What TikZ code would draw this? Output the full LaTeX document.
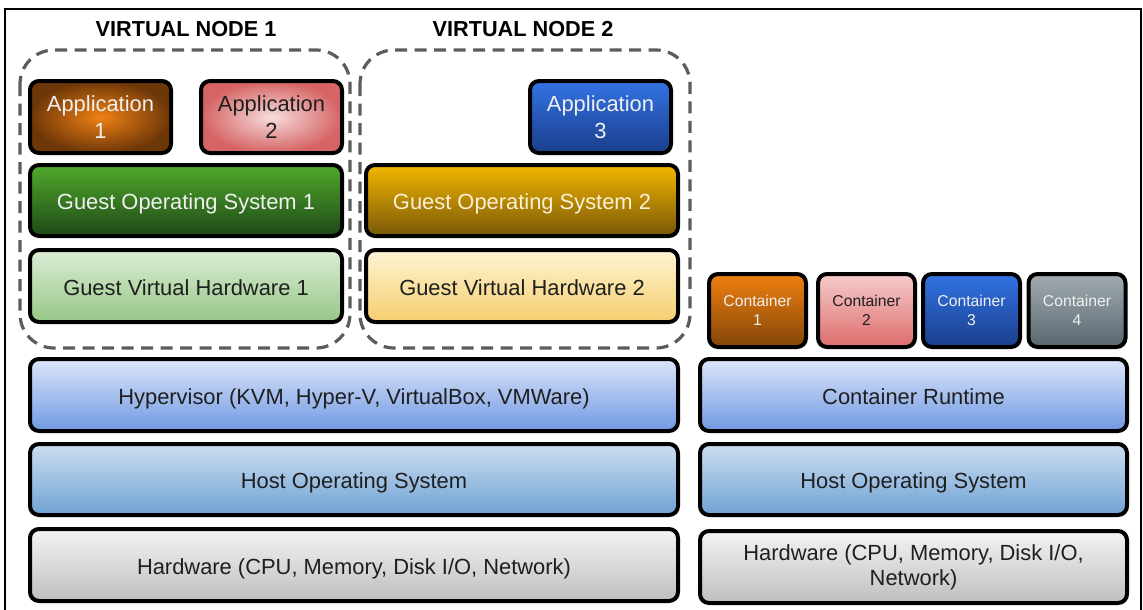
\documentclass[tikz,border=0pt]{standalone}
\usepackage{fontspec}
\setmainfont{Liberation Sans}
\newcommand\dn[1]{\raisebox{-3.8pt}[16pt][5pt]{#1}}
\begin{document}
\begin{tikzpicture}[x=1pt,y=-1pt,
  layer/.style={draw=black,line width=4pt,rounded corners=9pt,inner sep=0pt,align=center,
    font=\fontsize{21.9}{27}\selectfont,text=black!88},
  lighttext/.style={text=white!94!black},
  ctr/.style={layer,minimum width=97pt,minimum height=73pt,font=\fontsize{15.7}{19}\selectfont},
  vnode/.style={draw=black!64,line width=3.2pt,dash pattern=on 12pt off 7.5pt,rounded corners=34pt},
  vlabel/.style={font=\fontsize{21.7}{26}\selectfont\bfseries,text=black,inner sep=0pt}]
\useasboundingbox (0,0) rectangle (1143,610);
\draw[line width=2.5pt] (5,612) -- (5,9) -- (1141,9) -- (1141,612);

% virtual node outlines
\draw[vnode] (20,50) rectangle (350,348);
\draw[vnode] (360,50) rectangle (690,348);
\node[vlabel] (vn1) at (186,29.5) {VIRTUAL NODE 1};
\node[vlabel] (vn2) at (523,29.5) {VIRTUAL NODE 2};

% applications
\node[layer,lighttext,minimum width=141pt,minimum height=72pt,shading=radial,
  inner color={rgb,255:red,240;green,130;blue,20},outer color={rgb,255:red,110;green,55;blue,8}]
  (app1) at (100.5,117) {Application\\1};
\node[layer,minimum width=141pt,minimum height=72pt,shading=radial,
  inner color={rgb,255:red,246;green,220;blue,220},outer color={rgb,255:red,214;green,100;blue,100}]
  (app2) at (271.5,117) {Application\\2};
\node[layer,lighttext,minimum width=141pt,minimum height=72pt,
  top color={rgb,255:red,50;green,115;blue,228},bottom color={rgb,255:red,26;green,62;blue,140}]
  (app3) at (600.5,117) {Application\\3};

% guest OS / hardware
\node[layer,lighttext,minimum width=312pt,minimum height=71pt,
  top color={rgb,255:red,80;green,170;blue,44},bottom color={rgb,255:red,30;green,72;blue,22}]
  (gos1) at (186,200.5) {\dn{Guest Operating System 1}};
\node[layer,minimum width=312pt,minimum height=72pt,
  top color={rgb,255:red,220;green,238;blue,214},bottom color={rgb,255:red,150;green,198;blue,134}]
  (gvh1) at (186,286) {\dn{Guest Virtual Hardware 1}};
\node[layer,text={rgb,255:red,250;green,240;blue,215},minimum width=312pt,minimum height=71pt,
  top color={rgb,255:red,244;green,182;blue,0},bottom color={rgb,255:red,120;green,88;blue,8}]
  (gos2) at (522,200.5) {\dn{Guest Operating System 2}};
\node[layer,minimum width=312pt,minimum height=72pt,
  top color={rgb,255:red,255;green,244;blue,212},bottom color={rgb,255:red,245;green,206;blue,110}]
  (gvh2) at (522,286) {\dn{Guest Virtual Hardware 2}};

% host stacks
\node[layer,minimum width=648pt,minimum height=72pt,
  top color={rgb,255:red,220;green,230;blue,250},bottom color={rgb,255:red,112;green,152;blue,226}]
  (hyp) at (354,395) {\dn{Hypervisor (KVM, Hyper-V, VirtualBox, VMWare)}};
\node[layer,minimum width=648pt,minimum height=71pt,
  top color={rgb,255:red,204;green,222;blue,242},bottom color={rgb,255:red,112;green,162;blue,212}]
  (hos1) at (354,479.5) {\dn{Host Operating System}};
\node[layer,minimum width=648pt,minimum height=72pt,
  top color={rgb,255:red,244;green,244;blue,244},bottom color={rgb,255:red,190;green,190;blue,190}]
  (hw1) at (354,565) {\dn{Hardware (CPU, Memory, Disk I/O, Network)}};

\node[layer,minimum width=427pt,minimum height=72pt,
  top color={rgb,255:red,220;green,230;blue,250},bottom color={rgb,255:red,112;green,152;blue,226}]
  (crt) at (913.5,395) {\dn{Container Runtime}};
\node[layer,minimum width=427pt,minimum height=71pt,
  top color={rgb,255:red,204;green,222;blue,242},bottom color={rgb,255:red,112;green,162;blue,212}]
  (hos2) at (913.5,479.5) {\dn{Host Operating System}};
\node[layer,minimum width=427pt,minimum height=72pt,font=\fontsize{21.9}{25}\selectfont,
  top color={rgb,255:red,244;green,244;blue,244},bottom color={rgb,255:red,190;green,190;blue,190}]
  (hw2) at (913.5,567) {Hardware (CPU, Memory, Disk I/O,\\Network)};

% containers
\node[ctr,lighttext,top color={rgb,255:red,240;green,128;blue,16},bottom color={rgb,255:red,130;green,70;blue,8}]
  (c1) at (757.5,310.5) {Container\\1};
\node[ctr,top color={rgb,255:red,246;green,204;blue,204},bottom color={rgb,255:red,222;green,108;blue,108}]
  (c2) at (866.5,310.5) {Container\\2};
\node[ctr,lighttext,top color={rgb,255:red,50;green,115;blue,228},bottom color={rgb,255:red,26;green,62;blue,140}]
  (c3) at (971.5,310.5) {Container\\3};
\node[ctr,lighttext,top color={rgb,255:red,162;green,172;blue,178},bottom color={rgb,255:red,88;green,102;blue,110}]
  (c4) at (1077,310.5) {Container\\4};
\end{tikzpicture}
\end{document}
